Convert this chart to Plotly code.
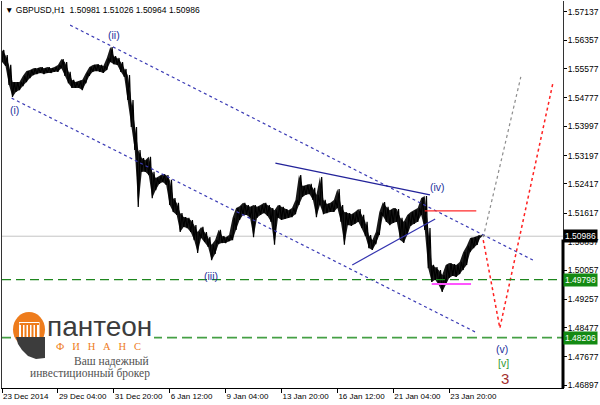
import plotly.graph_objects as go

# ---------------- data ----------------
time_labels = ["23 Dec 2014", "29 Dec 04:00", "31 Dec 20:00", "6 Jan 12:00", "9 Jan 04:00",
               "13 Jan 20:00", "16 Jan 12:00", "21 Jan 04:00", "23 Jan 20:00"]
time_label_bars = [0, 64, 128, 192, 256, 320, 384, 448, 512]
price_ticks = [1.57137, 1.56357, 1.55577, 1.54777, 1.53997, 1.53197, 1.52417, 1.51617,
               1.50837, 1.50057, 1.49257, 1.48477, 1.47677, 1.46897]
bars_per_column = 4  # each entry below summarises 4 H1 bars

col_high = [1.5609, 1.5595, 1.5568, 1.5521, 1.5521, 1.5521, 1.5538, 1.5551, 1.5554, 1.5559,
            1.5559, 1.5562, 1.5559, 1.5562, 1.5559, 1.5562, 1.5568, 1.5584, 1.5576, 1.5549,
            1.5527, 1.5521, 1.5524, 1.5527, 1.5546, 1.5562, 1.5568, 1.5570, 1.5568, 1.5565,
            1.5587, 1.5617, 1.5592, 1.5587, 1.5576, 1.5557, 1.5540, 1.5472, 1.5398, 1.5335,
            1.5313, 1.5307, 1.5316, 1.5275, 1.5258, 1.5264, 1.5269, 1.5266, 1.5253, 1.5203,
            1.5190, 1.5162, 1.5151, 1.5149, 1.5143, 1.5129, 1.5110, 1.5124, 1.5110, 1.5096,
            1.5075, 1.5088, 1.5116, 1.5099, 1.5096, 1.5102, 1.5149, 1.5176, 1.5181, 1.5190,
            1.5184, 1.5179, 1.5184, 1.5179, 1.5184, 1.5190, 1.5184, 1.5176, 1.5170, 1.5184,
            1.5179, 1.5173, 1.5170, 1.5176, 1.5198, 1.5266, 1.5236, 1.5239, 1.5242, 1.5231,
            1.5212, 1.5261, 1.5198, 1.5187, 1.5190, 1.5198, 1.5228, 1.5184, 1.5165, 1.5162,
            1.5159, 1.5165, 1.5173, 1.5157, 1.5138, 1.5102, 1.5088, 1.5110, 1.5165, 1.5192,
            1.5179, 1.5170, 1.5176, 1.5173, 1.5149, 1.5138, 1.5157, 1.5165, 1.5170, 1.5176,
            1.5203, 1.5209, 1.5121, 1.5020, 1.5014, 1.5006, 1.4992, 1.5020, 1.5025, 1.5022,
            1.5020, 1.5028, 1.5055, 1.5072, 1.5094, 1.5096, 1.5099, 1.51026]
col_low = [1.5576, 1.5565, 1.5513, 1.5480, 1.5494, 1.5499, 1.5510, 1.5521, 1.5532, 1.5540,
           1.5543, 1.5546, 1.5543, 1.5546, 1.5546, 1.5549, 1.5549, 1.5559, 1.5538, 1.5518,
           1.5505, 1.5505, 1.5505, 1.5499, 1.5518, 1.5538, 1.5549, 1.5551, 1.5549, 1.5546,
           1.5554, 1.5576, 1.5570, 1.5568, 1.5549, 1.5535, 1.5472, 1.5398, 1.5335, 1.5179,
           1.5275, 1.5275, 1.5266, 1.5203, 1.5225, 1.5242, 1.5247, 1.5239, 1.5184, 1.5165,
           1.5157, 1.5110, 1.5124, 1.5121, 1.5110, 1.5088, 1.5053, 1.5094, 1.5083, 1.5069,
           1.5033, 1.5050, 1.5077, 1.5080, 1.5080, 1.5085, 1.5088, 1.5116, 1.5143, 1.5157,
           1.5157, 1.5149, 1.5096, 1.5149, 1.5157, 1.5162, 1.5154, 1.5138, 1.5075, 1.5149,
           1.5143, 1.5146, 1.5149, 1.5151, 1.5159, 1.5184, 1.5206, 1.5212, 1.5214, 1.5198,
           1.5151, 1.5184, 1.5159, 1.5162, 1.5165, 1.5165, 1.5176, 1.5138, 1.5075, 1.5129,
           1.5127, 1.5132, 1.5138, 1.5121, 1.5099, 1.5066, 1.5061, 1.5077, 1.5102, 1.5154,
           1.5138, 1.5129, 1.5135, 1.5138, 1.5088, 1.5080, 1.5102, 1.5127, 1.5132, 1.5138,
           1.5157, 1.5116, 1.5011, 1.4973, 1.4979, 1.4965, 1.4946, 1.4965, 1.4984, 1.4990,
           1.4987, 1.4995, 1.5006, 1.5020, 1.5055, 1.5066, 1.5075, 1.50964]

symbol_title = "GBPUSD,H1"
last_ohlc = [1.50981, 1.51026, 1.50964, 1.50986]
bid_price = 1.50986
support_levels = [1.49798, 1.48206]

upper_channel_bars = [78, 608]
upper_channel_prices = [1.5677, 1.5033]
lower_channel_bars = [11, 542]
lower_channel_prices = [1.5477, 1.4836]
triangle_top_bars = [313, 490]
triangle_top_prices = [1.5299, 1.5212]
triangle_bottom_bars = [401, 496]
triangle_bottom_prices = [1.5020, 1.5146]
red_level_bars = [484, 543]
red_level_price = 1.5168
pink_level_bars = [492, 537]
pink_level_price = 1.4968
gray_path_bars = [551, 594]
gray_path_prices = [1.5096, 1.5535]
red_path_bars = [551, 570, 631]
red_path_prices = [1.5088, 1.4847, 1.5521]

wave_texts = ["(i)", "(ii)", "(iii)", "(iv)", "(v)"]
wave_bars = [14, 128, 239, 499, 573]
wave_prices = [1.5444, 1.5650, 1.4990, 1.5233, 1.4790]

# ---------------- figure ----------------
W, H = 600, 405
ML, MR, MT, MB = 2, 37, 1, 17
y_lo, y_hi = 1.46827, 1.57431
x_lo, x_hi = 0, 642.3
FONT = "Liberation Sans, Arial, sans-serif"

def px(x):  # pixel -> paper (decoration only)
    return (x - ML) / (W - ML - MR)

def py(y):
    return (H - MB - y) / (H - MB - MT)

col_bars = [k * bars_per_column for k in range(len(col_high))]

# zig-zag through each column's low and high
band_x, band_y = [], []
for b, hi, lo in zip(col_bars, col_high, col_low):
    band_x += [b, b + bars_per_column / 2]
    band_y += [lo, hi]

fig = go.Figure()

fig.add_trace(go.Scatter(
    x=col_bars + col_bars[::-1], y=col_high + col_low[::-1],
    mode="lines", fill="toself", fillcolor="rgba(0,0,0,0.9)",
    line=dict(width=0), hoverinfo="skip", showlegend=False))
fig.add_trace(go.Scatter(
    x=band_x, y=band_y, mode="lines",
    line=dict(color="black", width=1.2), hoverinfo="skip", showlegend=False))

blue_dot = "#3b3bb5"
def line_trace(xs, ys, color, width, dash):
    fig.add_trace(go.Scatter(x=xs, y=ys, mode="lines",
                             line=dict(color=color, width=width, dash=dash),
                             hoverinfo="skip", showlegend=False))

line_trace(upper_channel_bars, upper_channel_prices, blue_dot, 1.2, "dot")
line_trace(lower_channel_bars, lower_channel_prices, blue_dot, 1.2, "dot")
line_trace(triangle_top_bars, triangle_top_prices, "#23239a", 1.4, "solid")
line_trace(triangle_bottom_bars, triangle_bottom_prices, "#3535b0", 1.2, "solid")
line_trace(red_level_bars, [red_level_price] * 2, "#ff2a2a", 1.4, "solid")
line_trace(pink_level_bars, [pink_level_price] * 2, "#ff55ff", 2, "solid")
line_trace(gray_path_bars, gray_path_prices, "#8c8c8c", 1.2, "dot")
line_trace(red_path_bars, red_path_prices, "#ff2020", 1.5, "dot")

shapes = []
shapes.append(dict(type="line", xref="paper", x0=0, x1=1, yref="y", y0=bid_price, y1=bid_price,
                   line=dict(color="#c4c4c4", width=1), layer="below"))
shapes.append(dict(type="line", xref="paper", x0=0, x1=1, yref="y", y0=support_levels[0], y1=support_levels[0],
                   line=dict(color="#1e861e", width=1.2, dash="9px,5px"), layer="above"))
shapes.append(dict(type="line", xref="paper", x0=0, x1=1, yref="y", y0=support_levels[1], y1=support_levels[1],
                   line=dict(color="#45a045", width=1.8, dash="10px,5px"), layer="above"))
shapes.append(dict(type="line", xref="paper", x0=1, x1=1, yref="y", y0=bid_price - 0.0009, y1=y_lo,
                   line=dict(color="black", width=3), layer="above"))

# logo (decoration)
ORANGE = "#ee7c1c"
DARK = "#3c3c3c"
shapes.append(dict(type="rect", xref="paper", yref="paper", x0=px(11), x1=px(154), y0=py(381), y1=py(309),
                   fillcolor="white", line=dict(width=0), layer="above"))
shapes.append(dict(type="circle", xref="paper", yref="paper", x0=px(13), x1=px(45), y0=py(347), y1=py(312),
                   fillcolor=ORANGE, line=dict(width=0), layer="above"))
shapes.append(dict(type="rect", xref="paper", yref="paper", x0=px(19), x1=px(39.5), y0=py(339), y1=py(322),
                   fillcolor="white", line=dict(width=0), layer="above"))
for cx in [21, 24.5, 28, 31.5, 35]:
    shapes.append(dict(type="rect", xref="paper", yref="paper", x0=px(cx), x1=px(cx + 2), y0=py(337), y1=py(325),
                       fillcolor=ORANGE, line=dict(width=0), layer="above"))
shapes.append(dict(type="rect", xref="paper", yref="paper", x0=px(19.5), x1=px(39), y0=py(325), y1=py(323),
                   fillcolor=ORANGE, line=dict(width=0), layer="above"))

def pth(points):
    return "M " + " L ".join(f"{px(a):.5f},{py(b):.5f}" for a, b in points) + " Z"

shapes.append(dict(type="path", xref="paper", yref="paper",
                   path=pth([(16, 337), (45, 337), (45, 358), (36, 359), (28, 356), (22, 350), (18, 344)]),
                   fillcolor=DARK, line=dict(width=0), layer="above"))

annotations = []
title_text = "▼ " + symbol_title + "  " + " ".join(f"{v:.5f}" for v in last_ohlc)
annotations.append(dict(xref="paper", yref="paper", x=px(3), y=py(9.5), xanchor="left", yanchor="middle",
                        text=title_text, showarrow=False, font=dict(family=FONT, size=8.5, color="black")))

WAVE_BLUE = "#22309c"
for t, b, p in zip(wave_texts, wave_bars, wave_prices):
    annotations.append(dict(x=b, y=p, text=t, showarrow=False, xanchor="center", yanchor="middle",
                            font=dict(family=FONT, size=10.5, color=WAVE_BLUE)))
annotations.append(dict(x=574, y=1.4751, text="[v]", showarrow=False,
                        font=dict(family=FONT, size=10.5, color="#2f9a2f")))
annotations.append(dict(x=576, y=1.4710, text="3", showarrow=False,
                        font=dict(family=FONT, size=15, color="#a33030")))

for val, bg in [(bid_price, "black"), (support_levels[0], "#138a13"), (support_levels[1], "#138a13")]:
    annotations.append(dict(xref="paper", x=1, xanchor="left", xshift=0, y=val, yanchor="middle",
                            text=f"{val:.5f}", showarrow=False, bgcolor=bg, borderpad=1,
                            font=dict(family=FONT, size=8.5, color="white")))

annotations.append(dict(xref="paper", yref="paper", x=px(99), y=py(326), xanchor="center", yanchor="middle",
                        text="пантеон", showarrow=False, font=dict(family=FONT, size=28, color=DARK)))
annotations.append(dict(xref="paper", yref="paper", x=px(98), y=py(346), xanchor="center", yanchor="middle",
                        text="Ф   И   Н   А   Н   С", showarrow=False,
                        font=dict(family="Liberation Serif, serif", size=10.5, color=ORANGE)))
annotations.append(dict(xref="paper", yref="paper", x=px(151), y=py(361), xanchor="right", yanchor="middle",
                        text="Ваш надежный", showarrow=False,
                        font=dict(family="Liberation Serif, serif", size=11.5, color="#505050")))
annotations.append(dict(xref="paper", yref="paper", x=px(152), y=py(373.5), xanchor="right", yanchor="middle",
                        text="инвестиционный брокер", showarrow=False,
                        font=dict(family="Liberation Serif, serif", size=11.5, color="#505050")))

fig.update_layout(
    width=W, height=H,
    margin=dict(l=ML, r=MR, t=MT, b=MB),
    paper_bgcolor="white", plot_bgcolor="white",
    showlegend=False,
    shapes=shapes, annotations=annotations,
    xaxis=dict(range=[x_lo, x_hi], showgrid=False, zeroline=False,
               showline=True, linecolor="black", linewidth=1,
               tickvals=time_label_bars, ticktext=time_labels, tickangle=0,
               ticks="outside", ticklen=4, tickcolor="black",
               ticklabelposition="outside right",
               tickfont=dict(family=FONT, size=8, color="black")),
    yaxis=dict(range=[y_lo, y_hi], side="right", showgrid=False, zeroline=False,
               showline=True, linecolor="#333333", linewidth=1, mirror=True,
               tickvals=price_ticks, ticktext=[f"{v:.5f}" for v in price_ticks],
               ticks="outside", ticklen=3, tickcolor="black", ticklabelstandoff=-1,
               tickfont=dict(family=FONT, size=8.5, color="black")),
)

fig.write_html("out.html", config={"displayModeBar": False},
               post_script="document.body.style.margin='0';document.body.style.padding='0';")
